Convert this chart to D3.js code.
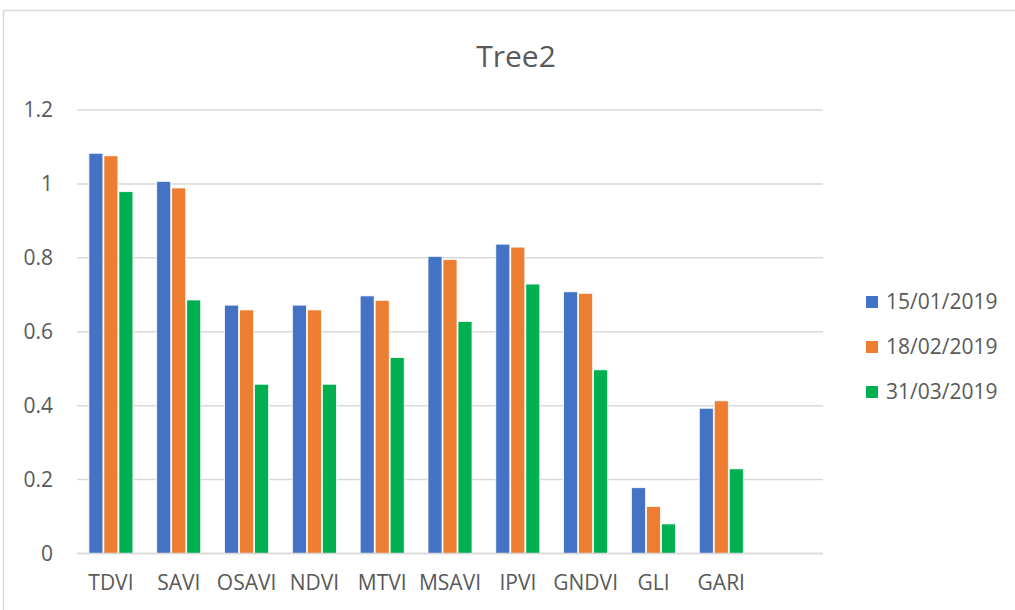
<!DOCTYPE html>
<html>
<head>
<meta charset="utf-8">
<script src="https://cdn.jsdelivr.net/npm/d3@7"></script>
<style>
  html, body { margin: 0; padding: 0; background: #fff; }
  svg { display: block; font-family: "Open Sans", "Noto Sans", sans-serif; }
</style>
</head>
<body>
<svg id="chart" width="1015" height="610"></svg>
<script>
// Vegetation index values per acquisition date
const categories = ["TDVI", "SAVI", "OSAVI", "NDVI", "MTVI", "MSAVI", "IPVI", "GNDVI", "GLI", "GARI"];
const seriesNames = ["15/01/2019", "18/02/2019", "31/03/2019"];
const valuesJan = [1.083, 1.007, 0.672, 0.672, 0.697, 0.804, 0.837, 0.708, 0.178, 0.393];
const valuesFeb = [1.076, 0.989, 0.659, 0.659, 0.685, 0.795, 0.829, 0.704, 0.127, 0.413];
const valuesMar = [0.979, 0.686, 0.458, 0.458, 0.530, 0.628, 0.729, 0.497, 0.080, 0.229];
const seriesColors = ["#4472C4", "#ED7D31", "#00B050"];
const yTicks = [0, 0.2, 0.4, 0.6, 0.8, 1, 1.2];
const chartTitle = "Tree2";

const seriesValues = [valuesJan, valuesFeb, valuesMar];
const svg = d3.select("#chart");
const textColor = "#595959";
const gridColor = "#d9d9d9";
const labelSize = 21;

// Outer chart frame (runs off the right and bottom edges)
svg.append("rect")
  .attr("x", 3.5).attr("y", 10.5)
  .attr("width", 1040).attr("height", 640)
  .attr("fill", "none").attr("stroke", gridColor).attr("stroke-width", 1.5);

const plot = { left: 77, right: 823, top: 110, bottom: 553.5 };

// One spare slot at the end of the category axis stays empty
const slots = categories.concat(["__spare__"]);
const x0 = d3.scaleBand().domain(slots).range([plot.left, plot.right]).paddingInner(0).paddingOuter(0);
const groupWidth = 45;
const x1 = d3.scaleBand().domain(seriesNames)
  .range([(x0.bandwidth() - groupWidth) / 2, (x0.bandwidth() + groupWidth) / 2]);
const y = d3.scaleLinear().domain([0, 1.2]).range([plot.bottom, plot.top]);

// Horizontal gridlines
svg.append("g").selectAll("line").data(yTicks).join("line")
  .attr("x1", plot.left).attr("x2", plot.right)
  .attr("y1", d => y(d)).attr("y2", d => y(d))
  .attr("stroke", gridColor).attr("stroke-width", 1.5);

// Value axis labels
const yAxis = d3.axisLeft(y).tickValues(yTicks).tickSize(0).tickPadding(0).tickFormat(d3.format("~g"));
svg.append("g")
  .attr("transform", `translate(${53},0)`)
  .call(yAxis)
  .call(g => g.select(".domain").remove())
  .call(g => g.selectAll("text")
    .attr("fill", textColor).attr("font-size", labelSize)
    .attr("font-family", "'Open Sans', sans-serif"));

// Bars
const groups = svg.append("g").selectAll("g").data(categories).join("g")
  .attr("transform", d => `translate(${x0(d)},0)`);
groups.selectAll("rect")
  .data((c, i) => seriesNames.map((s, k) => ({ series: s, value: seriesValues[k][i], color: seriesColors[k] })))
  .join("rect")
  .attr("x", d => x1(d.series) + 0.5)
  .attr("width", x1.bandwidth() - 1)
  .attr("y", d => y(d.value))
  .attr("height", d => y(0) - y(d.value))
  .attr("fill", d => d.color)
  .attr("stroke", "#fff").attr("stroke-width", 0.75);

// Baseline drawn over the bars
svg.append("line")
  .attr("x1", plot.left).attr("x2", plot.right)
  .attr("y1", y(0)).attr("y2", y(0))
  .attr("stroke", gridColor).attr("stroke-width", 1.5);

// Category labels
const xAxis = d3.axisBottom(x0).tickValues(categories).tickSize(0).tickPadding(0);
svg.append("g")
  .attr("transform", `translate(0,${575})`)
  .call(xAxis)
  .call(g => g.select(".domain").remove())
  .call(g => g.selectAll("text")
    .attr("fill", textColor).attr("font-size", labelSize)
    .attr("font-family", "'Open Sans', sans-serif"));

// Title
svg.append("text")
  .attr("x", 516).attr("y", 67)
  .attr("text-anchor", "middle")
  .attr("font-size", 30).attr("fill", textColor)
  .text(chartTitle);

// Legend
const legend = svg.append("g").selectAll("g").data(seriesNames).join("g")
  .attr("transform", (d, i) => `translate(866,${302 + i * 45})`);
legend.append("rect")
  .attr("x", 0).attr("y", -6).attr("width", 12).attr("height", 12)
  .attr("fill", (d, i) => seriesColors[i]);
legend.append("text")
  .attr("x", 20).attr("y", 0).attr("dy", "0.35em")
  .attr("font-size", labelSize).attr("fill", textColor)
  .text(d => d);
</script>
</body>
</html>
